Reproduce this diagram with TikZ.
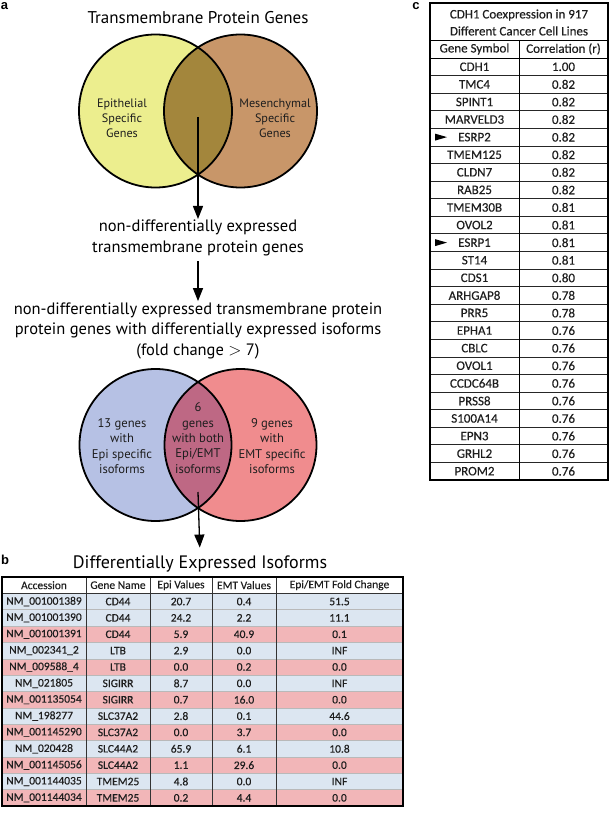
\documentclass[tikz,border=0pt]{standalone}
\usepackage{fontspec}
\setmainfont{PT Sans}
\newfontfamily\calfont[FakeBold=0.3]{Carlito}
\newfontfamily\labfont{Liberation Sans}
\usetikzlibrary{arrows.meta}
\definecolor{epiyel}{RGB}{236,238,142}
\definecolor{mesbrn}{RGB}{200,150,105}
\definecolor{ovlbrn}{RGB}{163,134,60}
\definecolor{epiblu}{RGB}{182,193,228}
\definecolor{emtred}{RGB}{240,140,142}
\definecolor{ovlred}{RGB}{190,104,132}
\definecolor{rowblu}{RGB}{220,230,241}
\definecolor{rowred}{RGB}{242,182,184}
\definecolor{txtdark}{RGB}{30,30,30}
\tikzset{
  panel/.style={font=\labfont\bfseries\fontsize{13}{13}\selectfont, inner sep=0pt},
  venntitle/.style={font=\fontsize{17}{20}\selectfont, inner sep=1pt},
  flowtext/.style={font=\fontsize{16.5}{20.5}\selectfont, align=center, inner sep=1pt},
  venntext/.style={font=\fontsize{12.2}{15}\selectfont, align=center, inner sep=0pt, text=txtdark},
  venntextb/.style={font=\fontsize{12.6}{15.3}\selectfont, align=center, inner sep=0pt, text=txtdark},
  vennline/.style={line width=1.8pt, black},
  flowarrow/.style={line width=1.3pt, -{Triangle[length=13pt,width=10pt]}},
  celltext/.style={font=\calfont\fontsize{11.5}{11.5}\selectfont, inner sep=0pt, text=txtdark},
  celltextc/.style={font=\calfont\fontsize{13}{13}\selectfont, inner sep=0pt, text=txtdark},
  tickarrow/.style={fill=black, draw=none}
}
\begin{document}
\begin{tikzpicture}[x=1pt,y=-1pt]
\useasboundingbox (0,0) rectangle (610,813);
\fill[white] (0,0) rectangle (610,813);

% panel labels
\node[panel] (pa) at (4.5,6) {a};
\node[panel] (pb) at (5,560) {b};
\node[panel] (pc) at (416,6) {c};

% ---------- Venn 1 ----------
\node[venntitle] (vt1) at (198,18) {Transmembrane Protein Genes};
\fill[epiyel] (155.5,111) circle (76.5);
\fill[mesbrn] (240.5,111) circle (76.5);
\begin{scope}
  \clip (155.5,111) circle (76.5);
  \fill[ovlbrn] (240.5,111) circle (76.5);
\end{scope}
\node[circle, minimum size=153pt, inner sep=0pt, draw, vennline] (L1) at (155.5,111) {};
\node[circle, minimum size=153pt, inner sep=0pt, draw, vennline] (R1) at (240.5,111) {};
\node[venntext] (epi) at (122,118) {Epithelial\\Specific\\Genes};
\node[venntext] (mes) at (275,118) {Mesenchymal\\Specific\\Genes};
\coordinate (m1) at (198,117);

\node[flowtext] (t1) at (198,238) {non-differentially expressed\\transmembrane protein genes};
\node[flowtext] (t2) at (198,330.5) {non-differentially expressed transmembrane protein\\protein genes with differentially expressed isoforms\\(fold change $>$ 7)};

\draw[flowarrow] (m1) -- (t1.north);
\draw[flowarrow, shorten <=4pt] (t1.south) -- (t2.north);

% ---------- Venn 2 ----------
\fill[epiblu] (155.5,445) circle (76);
\fill[emtred] (240.5,445) circle (76);
\begin{scope}
  \clip (155.5,445) circle (76);
  \fill[ovlred] (240.5,445) circle (76);
\end{scope}
\node[circle, minimum size=152pt, inner sep=0pt, draw, vennline] (L2) at (155.5,445) {};
\node[circle, minimum size=152pt, inner sep=0pt, draw, vennline] (R2) at (240.5,445) {};
\node[venntextb] (g13) at (122,446) {13 genes\\with\\Epi specific\\isoforms};
\node[venntextb] (g6) at (198,438) {6\\genes\\with both\\Epi/EMT\\isoforms};
\node[venntextb] (g9) at (272,446) {9 genes\\with\\EMT specific\\isoforms};
\coordinate (m2) at (198,492);

\node[venntitle, font=\fontsize{18}{20}\selectfont] (tb) at (200,564) {Differentially Expressed Isoforms};
\draw[flowarrow, shorten >=7pt] (m2) -- (tb.north);

% ---------- Table b ----------
\def\rh{16.36}
\foreach \acc/\gene/\epi/\emt/\fc/\col [count=\i] in {
  NM\_001001389/CD44/20.7/0.4/51.5/rowblu,
  NM\_001001390/CD44/24.2/2.2/11.1/rowblu,
  NM\_001001391/CD44/5.9/40.9/0.1/rowred,
  NM\_002341\_2/LTB/2.9/0.0/INF/rowblu,
  NM\_009588\_4/LTB/0.0/0.2/0.0/rowred,
  NM\_021805/SIGIRR/8.7/0.0/INF/rowblu,
  NM\_001135054/SIGIRR/0.7/16.0/0.0/rowred,
  NM\_198277/SLC37A2/2.8/0.1/44.6/rowblu,
  NM\_001145290/SLC37A2/0.0/3.7/0.0/rowred,
  NM\_020428/SLC44A2/65.9/6.1/10.8/rowblu,
  NM\_001145056/SLC44A2/1.1/29.6/0.0/rowred,
  NM\_001144035/TMEM25/4.8/0.0/INF/rowblu,
  NM\_001144034/TMEM25/0.2/4.4/0.0/rowred}{
  \pgfmathsetmacro{\yt}{577+\i*\rh}
  \pgfmathsetmacro{\yc}{\yt+\rh/2}
  \fill[\col] (2,\yt) rectangle (403,\yt+\rh);
  \draw[gray!55, line width=0.6pt] (2,\yt) -- (403,\yt);
  \node[celltext] (ba\i) at (44,\yc) {\acc};
  \node[celltext] (bg\i) at (118,\yc) {\gene};
  \node[celltext] (be\i) at (181,\yc) {\epi};
  \node[celltext] (bm\i) at (244,\yc) {\emt};
  \node[celltext] (bf\i) at (339.5,\yc) {\fc};
}
\pgfmathsetmacro{\yc}{577+\rh/2}
\node[celltext] (bh1) at (44,\yc) {Accession};
\node[celltext] (bh2) at (118,\yc) {Gene Name};
\node[celltext] (bh3) at (181,\yc) {Epi Values};
\node[celltext] (bh4) at (244,\yc) {EMT Values};
\node[celltext] (bh5) at (339.5,\yc) {Epi/EMT Fold Change};
\draw[black!80, line width=0.8pt] (2,577+\rh) -- (403,577+\rh);
\foreach \x in {86,150,212,276}{
  \draw[black!80, line width=0.8pt] (\x,577) -- (\x,806);
}
\draw[black, line width=1.2pt] (2,577) rectangle (403,806);

% ---------- Table c ----------
\def\rc{17.583}
\node[celltextc, align=center, font=\calfont\fontsize{13}{17}\selectfont] (ct) at (519,22.5) {CDH1 Coexpression in 917\\Different Cancer Cell Lines};
\node[celltextc] (ch1) at (474.5,49) {Gene Symbol};
\node[celltextc] (ch2) at (563.5,49) {Correlation (r)};
\draw[black, line width=0.7pt] (430,40) -- (608,40);
\draw[black, line width=0.7pt] (430,58) -- (608,58);
\foreach \g/\v [count=\i from 0] in {CDH1/1.00,TMC4/0.82,SPINT1/0.82,MARVELD3/0.82,ESRP2/0.82,TMEM125/0.82,CLDN7/0.82,RAB25/0.82,TMEM30B/0.81,OVOL2/0.81,ESRP1/0.81,ST14/0.81,CDS1/0.80,ARHGAP8/0.78,PRR5/0.78,EPHA1/0.76,CBLC/0.76,OVOL1/0.76,CCDC64B/0.76,PRSS8/0.76,S100A14/0.76,EPN3/0.76,GRHL2/0.76,PROM2/0.76}{
  \pgfmathsetmacro{\yt}{58+\i*\rc}
  \pgfmathsetmacro{\yc}{\yt+\rc/2}
  \ifnum\i>0 \draw[black!85, line width=0.7pt] (430,\yt) -- (608,\yt); \fi
  \node[celltextc] (cg\i) at (474.5,\yc) {\g};
  \node[celltextc] (cv\i) at (563.5,\yc) {\v};
}
\draw[black, line width=1pt] (519,40) -- (519,480);
\draw[black, line width=1.2pt] (430,3) rectangle (608,480);
% arrowheads marking ESRP2 and ESRP1
\pgfmathsetmacro{\ya}{58+4.5*\rc}
\fill[tickarrow] (435,\ya-3.5) -- (447,\ya) -- (435,\ya+3.5) -- cycle;
\pgfmathsetmacro{\yb}{58+10.5*\rc}
\fill[tickarrow] (435,\yb-3.5) -- (447,\yb) -- (435,\yb+3.5) -- cycle;
\end{tikzpicture}
\end{document}
